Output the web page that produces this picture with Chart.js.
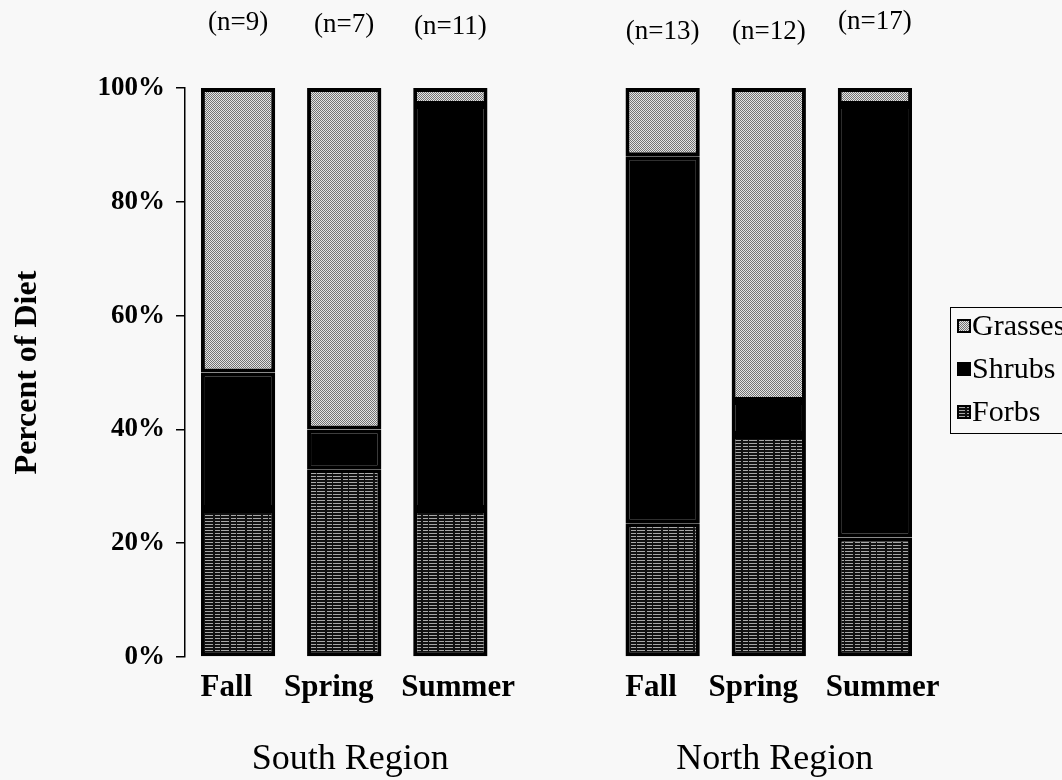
<!DOCTYPE html>
<html>
<head>
<meta charset="utf-8">
<script src="https://cdn.jsdelivr.net/npm/chart.js@4.4.1/dist/chart.umd.min.js"></script>
<style>
  html, body { margin: 0; padding: 0; background: #f8f8f8; }
  #wrap { width: 1062px; height: 780px; position: relative; }
</style>
</head>
<body>
<div id="wrap"><canvas id="dietChart"></canvas></div>
<script>
// categories (empty slot keeps the two regions apart)
var seasons = ['Fall', 'Spring', 'Summer', '', 'Fall', 'Spring', 'Summer'];
var regions = ['South Region', 'North Region'];
var regionIndex = [1, 5];
var sampleSizes = ['(n=9)', '(n=7)', '(n=11)', '', '(n=13)', '(n=12)', '(n=17)'];

// percent of diet, stacked bottom to top
var forbs   = [26, 33, 26, null, 23.5, 39, 21];
var shrubs  = [24,  7, 71, null, 64.5,  6, 76];
var grasses = [50, 60,  3, null, 12,   55,  3];

var seriesNames = ['Grasses', 'Shrubs', 'Forbs'];

// y positions of the (n=..) labels, they sit a bit uneven in the scan
var sampleLabelY = [23, 25, 27, 0, 32, 32, 22];
// season labels in the scan are spread out a little (spaces, + = pushed right)
var labelNudge = [-3, -4, 2, 0, -3, -4, 2];

var serif = '"Liberation Serif", "Times New Roman", serif';

function makePattern(kind) {
    var c = document.createElement('canvas');
    var g = c.getContext('2d');
    if (kind === 'grass') {
        c.width = 4; c.height = 4;
        for (var y = 0; y < 4; y++) {
            for (var x = 0; x < 4; x++) {
                g.fillStyle = ((x + y) % 2 === 0) ? '#737373' : '#e4e4e4';
                g.fillRect(x, y, 1, 1);
            }
        }
    } else {
        c.width = 16; c.height = 3;
        g.fillStyle = '#111';
        g.fillRect(0, 0, 16, 3);
        g.fillStyle = '#a8a8a8';
        g.fillRect(0, 2, 16, 1);
        g.fillStyle = '#111';
        g.fillRect(5, 2, 2, 1);
        g.fillRect(12, 2, 1, 1);
    }
    return g.createPattern(c, 'repeat');
}

var grassFill = makePattern('grass');
var forbFill = makePattern('forb');
var shrubFill = '#000000';

var background = {
    id: 'background',
    beforeDraw: function(chart) {
        var ctx = chart.ctx;
        ctx.save();
        ctx.fillStyle = '#f8f8f8';
        ctx.fillRect(0, 0, chart.width, chart.height);
        ctx.restore();
    }
};

// n labels above bars, region names under the season labels, boxed legend
var annotations = {
    id: 'annotations',
    afterDraw: function(chart) {
        var ctx = chart.ctx;
        var x = chart.scales.x;
        ctx.save();
        ctx.fillStyle = '#000';
        ctx.textAlign = 'center';
        ctx.textBaseline = 'middle';

        ctx.font = '27px ' + serif;
        for (var i = 0; i < sampleSizes.length; i++) {
            if (!sampleSizes[i]) continue;
            ctx.fillText(sampleSizes[i], x.getPixelForValue(i), sampleLabelY[i]);
        }

        ctx.font = '36px ' + serif;
        for (var r = 0; r < regions.length; r++) {
            ctx.fillText(regions[r], x.getPixelForValue(regionIndex[r]) + 6, 760);
        }

        // legend
        var fills = [grassFill, shrubFill, forbFill];
        ctx.strokeStyle = '#000';
        ctx.lineWidth = 1;
        ctx.strokeRect(950.5, 307.5, 140, 126);
        ctx.font = '30px ' + serif;
        ctx.textAlign = 'left';
        for (var k = 0; k < seriesNames.length; k++) {
            var cy = 326 + k * 43;
            ctx.fillStyle = '#000';
            ctx.fillRect(957, cy - 7, 14, 14);
            ctx.fillStyle = fills[k];
            ctx.fillRect(959, cy - 5, 10, 10);
            ctx.fillStyle = '#000';
            ctx.fillText(seriesNames[k], 972, cy + 1);
        }
        ctx.restore();
    }
};

var ctx = document.getElementById('dietChart');

var myChart = new Chart(ctx, {
    type: 'bar',
    data: {
        labels: seasons,
        datasets: [{
            label: 'Forbs',
            data: forbs,
            backgroundColor: forbFill
        }, {
            label: 'Shrubs',
            data: shrubs,
            backgroundColor: shrubFill
        }, {
            label: 'Grasses',
            data: grasses,
            backgroundColor: grassFill
        }]
    },
    options: {
        responsive: true,
        maintainAspectRatio: false,
        animation: false,
        layout: {
            padding: { left: 0, right: 134, top: 88, bottom: 0 }
        },
        datasets: {
            bar: {
                borderColor: '#000',
                borderWidth: 4,
                borderSkipped: false,
                barPercentage: 0.7,
                categoryPercentage: 1.0
            }
        },
        plugins: {
            legend: { display: false },
            tooltip: { enabled: false }
        },
        scales: {
            x: {
                stacked: true,
                grid: { display: false, drawTicks: false },
                border: { display: false },
                ticks: {
                    color: '#000',
                    padding: 12,
                    autoSkip: false,
                    maxRotation: 0,
                    minRotation: 0,
                    font: { family: serif, size: 31, weight: 'bold' },
                    callback: function(val, i) {
                        var s = this.getLabelForValue(val);
                        var n = labelNudge[i] || 0;
                        var pad = new Array(Math.abs(n) + 1).join(' ');
                        return n < 0 ? s + pad : pad + s;
                    }
                },
                afterFit: function(scale) { scale.height = 123; }
            },
            y: {
                stacked: true,
                min: 0,
                max: 100,
                grid: {
                    drawOnChartArea: false,
                    drawTicks: true,
                    tickLength: 9,
                    color: '#000',
                    lineWidth: 1.5
                },
                border: { display: true, color: '#000', width: 1.5 },
                ticks: {
                    stepSize: 20,
                    color: '#000',
                    padding: 11,
                    font: { family: serif, size: 27, weight: 'bold' },
                    callback: function(v) { return v + '%'; }
                },
                title: {
                    display: true,
                    text: 'Percent of Diet',
                    color: '#000',
                    padding: { top: 9, bottom: 0 },
                    font: { family: serif, size: 32, weight: 'bold' }
                },
                afterFit: function(scale) { scale.width = 185; }
            }
        }
    },
    plugins: [background, annotations]
});
</script>
</body>
</html>
